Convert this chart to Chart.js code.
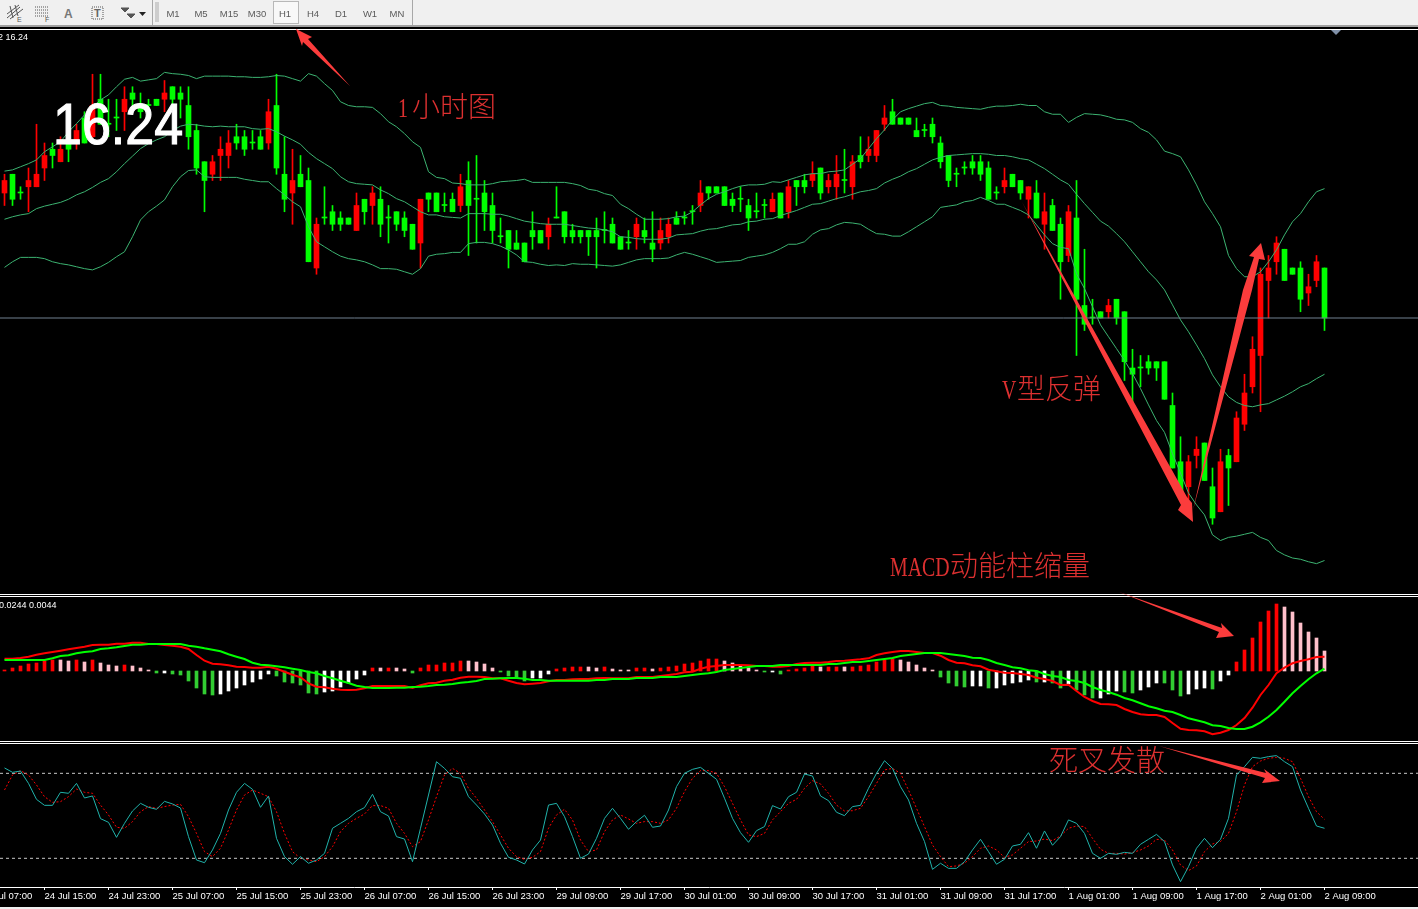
<!DOCTYPE html>
<html>
<head>
<meta charset="utf-8">
<title>XAGUSD H1</title>
<script src="https://cdn.jsdelivr.net/npm/chart.js@4"></script>
<style>
  html, body { margin: 0; padding: 0; background: #000; }
  #page { position: relative; width: 1418px; height: 909px; overflow: hidden; background: #000; font-family: "Liberation Sans", sans-serif; }
  canvas { position: absolute; left: 0; }
  .rule { position: absolute; left: 0; width: 1418px; height: 1px; background: #fff; }
  #toolbar { position: absolute; left: 0; top: 0; width: 1418px; height: 25px; background: #f0f0f0; border-bottom: 2px solid #a0a0a0; }
  .tf { position: absolute; top: 0; width: 28px; height: 26px; line-height: 27px; text-align: center; font-size: 9.5px; color: #5a5a5a; }
  #h1box { position: absolute; left: 273px; top: 1px; width: 24px; height: 21px; background: #f8f8f8; border: 1px solid #b8b8b8; }
  .sep { position: absolute; top: 0; width: 1px; height: 25px; background: #a8a8a8; }
  .note { position: absolute; white-space: nowrap; color: #dc3030; font-weight: 300; font-family: "Liberation Serif", "Noto Sans CJK SC", serif; }
  .latin { display: inline-block; transform: scaleX(0.71); transform-origin: left center; }
  .info { position: absolute; white-space: nowrap; color: #fff; font-size: 9px; }
  #bigprice { position: absolute; left: 53px; top: 90px; color: #fff; font-size: 52px; transform: scaleY(1.12); transform-origin: left top; -webkit-text-stroke: 1px #fff; }
  #overlay { position: absolute; left: 0; top: 0; }
  #foot { position: absolute; left: 0; top: 907px; width: 1418px; height: 2px; background: #f0f0f0; }
</style>
</head>
<body>
<div id="page">
  <div id="toolbar">
    <div id="h1box"></div>
    <div class="sep" style="left:152px"></div>
    <div class="sep" style="left:412px"></div>
    <svg width="150" height="25" style="position:absolute;left:0;top:0" fill="none" stroke="#555">
      <path d="M7 18 L20 7 M7 14 L19 5 M10 19 L23 9 M10 6 L13 18 M15 5 L18 16" stroke-width="1"/>
      <text x="17" y="22" font-size="7" fill="#555" stroke="none">E</text>
      <path d="M35 7 H48 M35 10 H48 M35 13 H48 M35 16 H48" stroke-dasharray="1 1"/>
      <text x="45" y="22" font-size="7" fill="#555" stroke="none">F</text>
      <text x="64" y="18" font-size="12" font-weight="bold" fill="#777" stroke="none">A</text>
      <rect x="92" y="7" width="11" height="12" stroke-dasharray="1 1"/>
      <text x="94" y="17" font-size="11" font-weight="bold" fill="#666" stroke="none">T</text>
      <path d="M121 8 L125 12 L129 8 Z M127 14 L131 18 L135 14 Z" fill="#555"/>
      <path d="M139 12 H146 L142.500 16 Z" fill="#222" stroke="none"/>
    </svg>
    <svg width="6" height="22" style="position:absolute;left:154px;top:2px"><path d="M1 1 H5 M1 3 H5 M1 5 H5 M1 7 H5 M1 9 H5 M1 11 H5 M1 13 H5 M1 15 H5 M1 17 H5 M1 19 H5" stroke="#aaa"/></svg>
  </div>
  <div class="rule" style="top:29px"></div>
  <canvas id="mainChart" width="1418" height="563" style="top:30px"></canvas>
  <div class="rule" style="top:594px"></div>
  <div class="rule" style="top:596px"></div>
  <canvas id="macdChart" width="1418" height="143" style="top:597px"></canvas>
  <div class="rule" style="top:741px"></div>
  <div class="rule" style="top:743px"></div>
  <canvas id="stochChart" width="1418" height="163" style="top:744px"></canvas>
  <div id="foot"></div>

  <div class="info" style="left:-2px;top:32px">2 16.24</div>
  <div class="info" style="left:-1px;top:600px">0.0244 0.0044</div>
  <div id="bigprice">16.24</div>

  <svg id="overlay" width="1418" height="909" fill="#fb3c3c">
    <polygon points="1331,30 1341,30 1336,35" fill="#8090a8"/>
    <polygon points="296,29 312,37 308,39 350,86 303,42 302,46"/>
    <polygon points="1022,202 1187,497 1192,503 1193,522 1178,510 1181,505"/>
    <polygon points="1193,510 1243,290 1254,257 1249,256 1261,243 1265,260 1259,259 1252,290"/>
    <polygon points="1119,592 1222,628 1221,623 1234,636 1216,638 1219,632"/>
    <polygon points="1159,746 1266,773 1264,769 1280,781 1262,783 1265,778"/>
  </svg>

  <div class="note" style="left:398px;top:85px;font-size:28px"><span class="latin" style="width:14px">1</span>小时图</div>
  <div class="note" style="left:1002px;top:367px;font-size:28px"><span class="latin" style="width:15px">V</span>型反弹</div>
  <div class="note" style="left:890px;top:544px;font-size:28px"><span class="latin" style="width:60px">MACD</span>动能柱缩量</div>
  <div class="note" style="left:1049px;top:737px;font-size:29px">死叉发散</div>

  <div class="tf" style="left:159px">M1</div>
  <div class="tf" style="left:187px">M5</div>
  <div class="tf" style="left:215px">M15</div>
  <div class="tf" style="left:243px">M30</div>
  <div class="tf" style="left:271px">H1</div>
  <div class="tf" style="left:299px">H4</div>
  <div class="tf" style="left:327px">D1</div>
  <div class="tf" style="left:356px">W1</div>
  <div class="tf" style="left:383px">MN</div>
</div>

<script>
  // hourly bars
  const opens = [
    16.44,16.47,16.44,16.45,16.45,16.48,16.51,16.49,16.52,16.52,
    16.56,16.53,16.59,16.55,16.56,16.57,16.60,16.58,16.58,16.59,
    16.59,16.61,16.60,16.58,16.54,16.49,16.47,16.50,16.50,16.53,
    16.53,16.52,16.53,16.52,16.58,16.47,16.44,16.47,16.46,16.32,
    16.40,16.41,16.40,16.40,16.38,16.43,16.42,16.43,16.40,16.41,
    16.40,16.39,16.36,16.44,16.44,16.42,16.43,16.42,16.46,16.43,
    16.44,16.42,16.37,16.38,16.36,16.36,16.38,16.38,16.37,16.40,
    16.41,16.38,16.38,16.38,16.38,16.38,16.39,16.37,16.36,16.37,
    16.38,16.36,16.36,16.37,16.40,16.40,16.41,16.42,16.45,16.45,
    16.45,16.43,16.43,16.42,16.41,16.42,16.41,16.44,16.41,16.46,
    16.46,16.46,16.48,16.45,16.45,16.46,16.45,16.50,16.50,16.50,
    16.55,16.57,16.56,16.56,16.54,16.54,16.55,16.52,16.50,16.47,
    16.48,16.49,16.49,16.48,16.44,16.45,16.47,16.46,16.43,16.44,
    16.39,16.42,16.39,16.34,16.40,16.26,16.24,16.25,16.25,16.27,
    16.25,16.16,16.16,16.17,16.17,16.17,16.10,16.01,15.97,16.02,
    16.04,15.97,15.93,16.02,16.01,16.07,16.13,16.18,16.30,16.33,
    16.35,16.32,16.32,16.28,16.30,16.32
  ];
  const highs = [
    16.47,16.47,16.45,16.48,16.55,16.52,16.52,16.53,16.53,16.55,
    16.57,16.63,16.63,16.59,16.59,16.61,16.61,16.60,16.59,16.59,
    16.62,16.61,16.61,16.61,16.55,16.49,16.50,16.53,16.54,16.55,
    16.54,16.54,16.54,16.59,16.63,16.53,16.51,16.50,16.48,16.40,
    16.45,16.42,16.41,16.40,16.44,16.43,16.45,16.45,16.42,16.41,
    16.41,16.39,16.43,16.44,16.44,16.44,16.44,16.47,16.49,16.50,
    16.46,16.44,16.40,16.38,16.38,16.36,16.41,16.38,16.40,16.45,
    16.41,16.39,16.38,16.38,16.40,16.41,16.40,16.37,16.38,16.40,
    16.40,16.41,16.40,16.40,16.41,16.41,16.42,16.46,16.45,16.45,
    16.45,16.44,16.45,16.43,16.44,16.43,16.44,16.44,16.46,16.46,
    16.47,16.49,16.48,16.47,16.50,16.51,16.50,16.53,16.53,16.54,
    16.58,16.59,16.56,16.56,16.56,16.55,16.56,16.53,16.50,16.48,
    16.49,16.50,16.50,16.49,16.45,16.48,16.47,16.46,16.45,16.46,
    16.44,16.43,16.40,16.42,16.46,16.35,16.27,16.25,16.27,16.27,
    16.25,16.19,16.18,16.18,16.17,16.17,16.12,16.05,16.02,16.05,
    16.04,16.00,16.03,16.03,16.09,16.15,16.21,16.32,16.34,16.37,
    16.35,16.32,16.33,16.31,16.34,16.32
  ];
  const lows = [
    16.42,16.42,16.43,16.41,16.45,16.46,16.48,16.49,16.49,16.51,
    16.52,16.52,16.55,16.53,16.54,16.54,16.57,16.56,16.56,16.58,
    16.57,16.58,16.56,16.51,16.47,16.41,16.46,16.46,16.48,16.51,
    16.50,16.51,16.51,16.51,16.47,16.41,16.39,16.45,16.33,16.31,
    16.39,16.38,16.38,16.39,16.38,16.39,16.39,16.37,16.36,16.38,
    16.37,16.35,16.32,16.41,16.41,16.41,16.41,16.41,16.34,16.36,
    16.38,16.36,16.36,16.32,16.35,16.33,16.35,16.36,16.35,16.40,
    16.36,16.36,16.36,16.34,16.32,16.36,16.36,16.35,16.35,16.35,
    16.36,16.33,16.35,16.36,16.39,16.39,16.39,16.41,16.43,16.44,
    16.42,16.41,16.41,16.38,16.40,16.40,16.41,16.40,16.40,16.42,
    16.44,16.45,16.43,16.44,16.43,16.44,16.43,16.48,16.49,16.49,
    16.54,16.55,16.55,16.55,16.53,16.53,16.52,16.48,16.45,16.45,
    16.47,16.47,16.46,16.43,16.43,16.44,16.45,16.43,16.40,16.40,
    16.35,16.38,16.27,16.33,16.18,16.22,16.23,16.24,16.24,16.23,
    16.14,16.10,16.13,16.15,16.14,16.11,16.00,15.96,15.95,16.00,
    15.98,15.91,15.93,15.94,16.01,16.06,16.12,16.09,16.24,16.31,
    16.30,16.31,16.25,16.26,16.29,16.22
  ];
  const closes = [
    16.46,16.43,16.44,16.46,16.47,16.50,16.50,16.51,16.51,16.54,
    16.52,16.58,16.55,16.55,16.56,16.59,16.59,16.57,16.58,16.58,
    16.60,16.59,16.59,16.53,16.48,16.46,16.49,16.51,16.52,16.52,
    16.51,16.52,16.51,16.57,16.48,16.43,16.46,16.45,16.33,16.39,
    16.40,16.39,16.39,16.39,16.42,16.41,16.44,16.39,16.40,16.39,
    16.38,16.35,16.43,16.43,16.41,16.42,16.41,16.45,16.42,16.43,
    16.41,16.38,16.37,16.35,16.35,16.33,16.37,16.36,16.39,16.40,
    16.37,16.37,16.37,16.37,16.37,16.38,16.36,16.35,16.36,16.39,
    16.37,16.35,16.38,16.39,16.39,16.40,16.41,16.44,16.44,16.44,
    16.42,16.42,16.43,16.40,16.41,16.42,16.43,16.40,16.45,16.45,
    16.45,16.47,16.44,16.46,16.47,16.46,16.49,16.49,16.51,16.54,
    16.56,16.55,16.55,16.55,16.53,16.54,16.53,16.49,16.46,16.47,
    16.48,16.48,16.47,16.43,16.44,16.46,16.45,16.44,16.45,16.40,
    16.41,16.38,16.33,16.41,16.27,16.23,16.24,16.24,16.26,16.24,
    16.17,16.15,16.16,16.16,16.16,16.11,16.00,15.96,16.01,16.03,
    15.98,15.92,16.01,16.00,16.08,16.12,16.19,16.31,16.32,16.36,
    16.30,16.31,16.27,16.29,16.33,16.24
  ];

  const bollUpper = [
    16.475,16.477,16.482,16.487,16.493,16.506,16.514,16.522,16.538,16.551,
    16.565,16.578,16.589,16.597,16.610,16.622,16.625,16.619,16.621,16.623,
    16.633,16.631,16.630,16.628,16.623,16.627,16.627,16.627,16.627,16.626,
    16.626,16.625,16.625,16.626,16.628,16.627,16.623,16.619,16.631,16.627,
    16.615,16.604,16.586,16.580,16.578,16.578,16.577,16.567,16.554,16.546,
    16.535,16.522,16.513,16.474,16.465,16.463,16.456,16.455,16.453,16.453,
    16.453,16.455,16.458,16.459,16.460,16.462,16.457,16.457,16.457,16.457,
    16.457,16.455,16.452,16.446,16.444,16.439,16.436,16.422,16.415,16.406,
    16.398,16.398,16.398,16.399,16.402,16.403,16.410,16.421,16.431,16.438,
    16.442,16.447,16.451,16.453,16.453,16.454,16.458,16.457,16.461,16.465,
    16.469,16.471,16.471,16.474,16.475,16.477,16.486,16.495,16.511,16.527,
    16.541,16.557,16.570,16.575,16.579,16.583,16.585,16.580,16.579,16.577,
    16.576,16.575,16.574,16.577,16.579,16.579,16.580,16.582,16.580,16.580,
    16.570,16.566,16.566,16.553,16.561,16.567,16.566,16.565,16.562,16.558,
    16.557,16.553,16.543,16.537,16.525,16.507,16.503,16.498,16.477,16.453,
    16.426,16.407,16.386,16.340,16.319,16.306,16.306,16.314,16.330,16.349,
    16.373,16.394,16.407,16.426,16.442,16.447
  ];
  const bollMiddle = [
    16.398,16.402,16.405,16.407,16.415,16.419,16.422,16.425,16.430,16.437,
    16.442,16.449,16.457,16.463,16.474,16.487,16.499,16.511,16.519,16.525,
    16.530,16.540,16.547,16.550,16.549,16.547,16.546,16.547,16.546,16.546,
    16.546,16.543,16.542,16.543,16.538,16.531,16.525,16.518,16.505,16.495,
    16.487,16.479,16.466,16.458,16.455,16.454,16.453,16.445,16.439,16.431,
    16.426,16.418,16.410,16.405,16.405,16.402,16.401,16.400,16.407,16.407,
    16.407,16.406,16.406,16.403,16.399,16.395,16.393,16.391,16.390,16.390,
    16.390,16.388,16.386,16.384,16.383,16.381,16.378,16.370,16.369,16.367,
    16.366,16.366,16.366,16.368,16.373,16.374,16.375,16.379,16.382,16.383,
    16.386,16.389,16.390,16.394,16.395,16.398,16.399,16.404,16.408,16.412,
    16.417,16.422,16.423,16.427,16.431,16.434,16.438,16.442,16.444,16.447,
    16.456,16.462,16.467,16.474,16.479,16.486,16.493,16.497,16.500,16.501,
    16.502,16.503,16.503,16.502,16.500,16.500,16.498,16.495,16.493,16.486,
    16.479,16.470,16.461,16.454,16.438,16.423,16.409,16.395,16.387,16.375,
    16.362,16.346,16.330,16.314,16.301,16.285,16.261,16.237,16.218,16.197,
    16.175,16.149,16.130,16.114,16.105,16.100,16.098,16.101,16.103,16.109,
    16.115,16.122,16.130,16.135,16.143,16.150
  ];
  const bollLower = [
    16.321,16.330,16.337,16.337,16.337,16.335,16.330,16.327,16.325,16.322,
    16.319,16.317,16.322,16.329,16.338,16.346,16.370,16.397,16.410,16.419,
    16.429,16.450,16.466,16.476,16.477,16.466,16.465,16.465,16.465,16.465,
    16.462,16.460,16.458,16.458,16.447,16.437,16.426,16.418,16.386,16.362,
    16.354,16.346,16.339,16.335,16.333,16.330,16.325,16.319,16.319,16.318,
    16.314,16.310,16.319,16.339,16.342,16.343,16.345,16.345,16.359,16.361,
    16.361,16.359,16.355,16.349,16.341,16.330,16.329,16.326,16.324,16.325,
    16.324,16.327,16.326,16.326,16.325,16.324,16.323,16.325,16.329,16.333,
    16.335,16.335,16.335,16.336,16.341,16.345,16.342,16.338,16.334,16.329,
    16.330,16.331,16.332,16.337,16.339,16.341,16.345,16.351,16.358,16.358,
    16.362,16.374,16.381,16.383,16.389,16.393,16.392,16.390,16.382,16.375,
    16.374,16.371,16.371,16.378,16.386,16.394,16.402,16.417,16.419,16.421,
    16.426,16.428,16.433,16.428,16.422,16.422,16.417,16.412,16.405,16.389,
    16.373,16.359,16.353,16.351,16.311,16.287,16.258,16.229,16.210,16.191,
    16.172,16.151,16.127,16.101,16.076,16.057,16.023,15.992,15.960,15.941,
    15.925,15.893,15.884,15.889,15.891,15.894,15.897,15.889,15.884,15.868,
    15.861,15.856,15.854,15.850,15.847,15.852
  ];
  const lastPrice = 16.24;

  // MACD pane, in thousandths
  const macdHist = [
    1,3,5,7,8,10,11,11,10,11,
    9,11,8,6,5,6,5,3,1,-2,
    -2,-3,-4,-10,-17,-23,-24,-23,-20,-17,
    -14,-11,-8,-3,-5,-11,-12,-14,-22,-23,
    -21,-20,-16,-12,-8,-4,3,3,3,3,
    2,-2,3,6,6,8,8,10,10,9,
    7,3,-1,-5,-7,-10,-7,-7,-3,2,
    3,4,4,4,3,4,2,1,1,3,
    3,2,3,4,5,7,8,10,12,12,
    10,8,5,3,1,-1,-1,-3,1,2,
    3,5,4,4,4,4,4,5,6,9,
    11,12,11,9,6,3,1,-6,-12,-15,
    -16,-15,-15,-17,-17,-14,-12,-11,-9,-11,
    -11,-12,-17,-13,-19,-24,-27,-27,-23,-20,
    -21,-22,-19,-16,-12,-12,-19,-25,-23,-18,
    -17,-18,-10,-4,9,21,33,49,60,67,
    64,59,48,39,33,20
  ];
  // r rising above zero, p falling above zero, g falling below zero, w rising below zero
  const macdHistState = (
    'rrrrrrrppr' + 'prppprpppg' + 'wggggggwww' + 'wwwwgggggg' +
    'wwwwwwrprp' + 'pgrrrrrrpp' + 'ppggggwwwr' + 'rrrpprpppr' +
    'rprrrrrrrr' + 'pppppgwgrr' + 'rrprrprrrr' + 'rrpppppggg' +
    'gwwgwwwwwg' + 'wggwgggwww' + 'ggwwwgggww' + 'wgwwrrrrrr' +
    'pppppp'
  ).split('');
  const macdMain = [
    12.3,12.3,13,14.3,16.3,17.7,19,20.3,21.7,23,
    24.3,26,26.3,26.3,27.3,27.3,28.3,28.3,27,27,
    26,25.3,24.3,22,16,10.3,7.3,6.7,5.7,4.3,
    4,3.3,3.3,4.3,2.3,-0.7,-3.7,-6.3,-12.3,-15.7,
    -16.3,-17.7,-18.7,-19,-18.7,-17.3,-15,-15,-15,-15,
    -15,-17,-14.3,-12.3,-11.7,-9.7,-8.7,-6.7,-5.7,-5.7,
    -6,-7.3,-7.3,-9.7,-12,-13.3,-12.7,-12,-10.3,-9,
    -9,-8.3,-8,-8,-7.3,-7,-7.3,-7.3,-7.3,-6,
    -6,-6,-5,-4,-3,-1.3,-0.7,2.3,4.3,5,
    6,6,6,5.7,5,5,4.3,4.3,5,7,
    8,8.3,8.3,9,10,10.3,11,11.7,12.7,16,
    17.7,19,20,20,19,18,18,15.3,11,8.3,
    7.7,5.7,4.7,1.3,-0.3,-1.7,-2,-3,-4,-6.7,
    -8,-10,-14,-13.7,-20,-26,-30,-33,-33.3,-34,
    -38,-41,-43.3,-44,-44,-46,-52,-57.7,-59,-59.3,
    -60.3,-63.3,-61.7,-59,-54,-47,-36.7,-24,-14,-2.3,
    3.3,7.7,10,11.7,14,14.3
  ];
  const macdSignal = [
    11,11,11,11,11,11,12.7,15,15.7,17.7,
    19,19.7,22,22.7,23.7,25,26.3,26.3,27,27,
    27,27,27,25.3,24.3,22.7,21.3,19.7,16.7,14.3,
    12,8.3,6.3,5.7,4.7,3.7,2.3,1,-1,-2.3,
    -5,-7.3,-9.7,-12,-14.7,-16,-17,-17,-17,-16.7,
    -16.7,-16,-15.7,-15,-14,-13.7,-13,-11.7,-11,-10,
    -8,-7.7,-7.3,-7,-7,-7.7,-9,-9,-9.7,-9.7,
    -9.7,-9.7,-9.7,-9.7,-9,-9,-8,-8,-8,-7,
    -7,-7,-6,-6,-6,-5,-4,-3,-2.3,-1,
    1,2,3,4,5,5,5,6,6,6,
    6,6,6,7,7,8,9,9,10,11,
    12,13,15,16,17,18,18,18,17,16,
    15,13.3,13,11,8,6,3.7,2.7,0.7,0,
    -3,-5,-6,-9,-10,-12,-16,-19,-21,-23.7,
    -27,-29.3,-32.3,-35.3,-37.3,-39.7,-41,-44,-47.3,-49.3,
    -51.3,-54.3,-55,-57,-58,-58,-55.7,-51.3,-45.7,-39,
    -30.7,-22.3,-15,-8.3,-2.3,2.3
  ];

  // stochastic pane
  const stochMain = [
    83.8,80.7,81.6,72.9,61.6,57.4,57.4,66.6,65.9,72.9,
    62.6,64,48,45.4,34.8,44.7,53.4,58.8,56,54.6,
    60.2,58.4,55.5,35.3,18.8,16.9,25.9,37.6,54.1,66.6,
    72.9,68.7,56,64,34.1,21.2,15.8,21.2,16.5,18.8,
    23.5,41.2,44.7,48.2,52.9,55.8,65.2,52.9,49.9,35.3,
    33.6,17.6,41.2,64.7,88.2,83.5,77.6,76.5,63.5,57.6,
    51.3,43.5,30.6,20.7,18.8,16,25.9,32.9,57.6,58.8,
    49.4,35.3,20,23,34.1,48.2,55.3,48.2,40.5,45.9,
    50.4,41.9,42.8,54.1,70.6,80,82.8,84.2,80,75.8,
    62.4,48.2,38.1,31.3,39.5,42.4,57.2,54.8,63.5,66.6,
    79.5,78.1,64,60.7,52.5,50.1,56.5,57.4,69.4,80,
    88.9,83.5,70.6,61.2,44.7,31.8,12.2,16.5,12.9,12.9,
    17.6,25.9,33.4,24.7,15.8,19.3,28.7,29.9,38.1,27.1,
    39.3,29.2,35.3,47.1,44.7,37.6,23.5,20,23.5,22.8,
    24.2,23.5,29.9,33.4,36.9,31.8,15.3,3.5,14.1,27.1,
    34.1,27.5,33.4,48.2,78.8,84.7,91.3,90.6,91.8,92.5,
    88.2,84.7,68.2,55.3,42.8,41.2
  ];
  const stochSignal = [
    68.2,78.8,81.9,78.8,71.8,63.5,59.5,60,63.5,68.9,
    66.6,65.9,57.6,50.6,41.9,41.2,45.9,52.9,56.5,55.3,
    56.5,57.6,58.1,49.4,37.6,24.7,21.2,27.1,40,54.1,
    64.7,68.2,65.9,63.5,52.9,37.6,24.7,20,18.8,17.6,
    21.2,28.2,38.8,44.7,48.2,51.3,57.2,57.2,55.3,44.7,
    37.6,28.2,31.8,47.1,63.5,78.8,83.5,80,69.4,62.4,
    54.1,45.9,36.5,27.1,21.2,19.3,20.7,24.7,41.2,50.6,
    54.6,47.1,32.9,24.7,25.9,38.8,47.1,50.6,47.8,44.7,
    45.9,45.9,44.7,47.1,55.3,67.1,76.5,81.9,81.9,80,
    70.6,58.8,47.1,36.5,35.3,37.6,47.1,52.9,58.8,61.6,
    69.4,74.8,72.5,65.9,57.6,53.4,53.6,55.3,63.5,72.9,
    82.4,83.5,80,68.2,55.3,42.4,29.4,21.2,14.1,14.6,
    16.5,21.2,27.1,28.7,25.9,20.7,22.4,27.1,31.8,32.2,
    33.6,32.5,35.8,41.2,42.8,42.4,34.1,26.4,23.5,23.5,
    23,24,25.9,28.7,33.4,32.9,25.9,15.3,11.3,14.6,
    24.7,30.1,31.8,37.6,52.9,71.8,84.7,88.7,90.6,91.3,
    90.6,88.2,76.5,63.5,52.9,47.5
  ];
  const stochLevels = [80, 20];

  const tickBars = [-3,5,13,21,29,37,45,53,61,69,77,85,93,101,109,117,125,133,141,149,157,165];
  const tickLabels = [
    '24 Jul 07:00','24 Jul 15:00','24 Jul 23:00','25 Jul 07:00','25 Jul 15:00','25 Jul 23:00',
    '26 Jul 07:00','26 Jul 15:00','26 Jul 23:00','29 Jul 09:00','29 Jul 17:00','30 Jul 01:00',
    '30 Jul 09:00','30 Jul 17:00','31 Jul 01:00','31 Jul 09:00','31 Jul 17:00','1 Aug 01:00',
    '1 Aug 09:00','1 Aug 17:00','2 Aug 01:00','2 Aug 09:00'
  ];

  // 8px per bar, first bar centred on 4.5px
  const xMin = -4.5 / 8;
  const xMax = (1418 - 4.5) / 8;
  const histColors = { r: '#ff0000', p: '#ffc0cb', g: '#32cd32', w: '#ffffff' };

  function xy(values) {
    return values.map(function(v, i) { return { x: i, y: v }; });
  }

  function range(a, b) {
    return a.map(function(v, i) { return { x: i, y: [v, b[i]] }; });
  }

  function flat(y) {
    return [{ x: xMin, y: y }, { x: xMax, y: y }];
  }

  function candleColor(ctx) {
    return closes[ctx.dataIndex] > opens[ctx.dataIndex] ? '#ff0000' : '#00ff00';
  }

  function line(values, color, width, order, dash) {
    return {
      type: 'line',
      data: values,
      borderColor: color,
      borderWidth: width,
      borderDash: dash || [],
      pointRadius: 0,
      tension: 0,
      order: order
    };
  }

  function paneOptions(yMin, yMax, xExtra) {
    const x = Object.assign({ type: 'linear', display: false, offset: false, min: xMin, max: xMax }, xExtra || {});
    return {
      responsive: false,
      devicePixelRatio: 1,
      animation: false,
      events: [],
      layout: { padding: 0 },
      plugins: { legend: { display: false }, tooltip: { enabled: false } },
      scales: {
        x: x,
        y: { type: 'linear', display: false, min: yMin, max: yMax }
      }
    };
  }

  new Chart(document.getElementById('mainChart'), {
    data: {
      datasets: [
        line(flat(lastPrice), '#708090', 1, 0),
        line(xy(bollUpper), '#3cb371', 1, 1),
        line(xy(bollMiddle), '#3cb371', 1, 1),
        line(xy(bollLower), '#3cb371', 1, 1),
        {
          type: 'bar',
          data: range(opens, closes),
          backgroundColor: candleColor,
          barThickness: 5,
          grouped: false,
          minBarLength: 1,
          order: 2
        },
        {
          type: 'bar',
          data: range(lows, highs),
          backgroundColor: candleColor,
          barThickness: 1,
          grouped: false,
          order: 3
        }
      ]
    },
    options: paneOptions(15.80, 16.7008)
  });

  new Chart(document.getElementById('macdChart'), {
    data: {
      datasets: [
        line(xy(macdSignal), '#00ff00', 2, 0),
        line(xy(macdMain), '#ff0000', 2, 1),
        {
          type: 'bar',
          data: xy(macdHist),
          backgroundColor: function(ctx) { return histColors[macdHistState[ctx.dataIndex]]; },
          barThickness: 3,
          grouped: false,
          order: 2
        }
      ]
    },
    options: paneOptions(-69, 74)
  });

  new Chart(document.getElementById('stochChart'), {
    data: {
      datasets: [
        line(xy(stochMain), '#20b2aa', 1, 0),
        line(xy(stochSignal), '#ff0000', 1, 1, [2, 2]),
        line(flat(stochLevels[0]), '#c8c8c8', 1, 2, [3, 3]),
        line(flat(stochLevels[1]), '#c8c8c8', 1, 2, [3, 3])
      ]
    },
    options: paneOptions(-0.26, 100.7, {
      display: true,
      position: 'bottom',
      afterBuildTicks: function(scale) {
        scale.ticks = tickBars.map(function(b) { return { value: b }; });
      },
      // the first label hangs off the left edge, do not let it push the pane in
      afterFit: function(scale) {
        scale.height = 20;
        scale.paddingLeft = 0;
        scale.paddingRight = 0;
      },
      border: { display: true, color: '#ffffff', width: 1 },
      grid: { offset: false, drawOnChartArea: false, drawTicks: true, tickLength: 3, color: '#ffffff' },
      ticks: {
        autoSkip: false,
        maxRotation: 0,
        minRotation: 0,
        align: 'start',
        padding: 1,
        color: '#ffffff',
        font: { family: '"Liberation Sans", sans-serif', size: 9.5 },
        callback: function(value) { return tickLabels[tickBars.indexOf(value)]; }
      }
    })
  });
</script>
</body>
</html>
